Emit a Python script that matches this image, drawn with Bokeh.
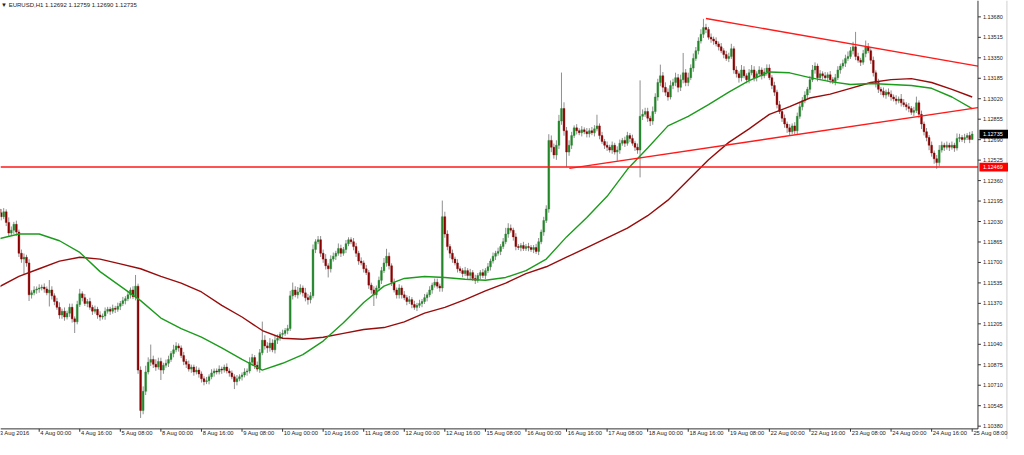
from bokeh.plotting import figure
from bokeh.models import Range1d, ColumnDataSource
from bokeh.embed import file_html
from bokeh.resources import INLINE
from bokeh.core.properties import value

# ---------------- data (EURUSD H1) ----------------
first_open = 1.12130
closes = [
    1.12100, 1.12069, 1.12108, 1.12023, 1.11937, 1.11960, 1.12007, 1.11945, 1.11774, 1.11727, 1.11742, 1.11696, 1.11439, 1.11455, 1.11478, 1.11486,
    1.11494, 1.11501, 1.11486, 1.11455, 1.11478, 1.11431, 1.11385, 1.11338, 1.11276, 1.11307, 1.11260, 1.11291, 1.11338, 1.11245, 1.11221, 1.11361,
    1.11447, 1.11416, 1.11369, 1.11385, 1.11338, 1.11307, 1.11322, 1.11276, 1.11260, 1.11268, 1.11307, 1.11322, 1.11307, 1.11330, 1.11322, 1.11346,
    1.11369, 1.11392, 1.11408, 1.11439, 1.11478, 1.11424, 1.11509, 1.10832, 1.10506, 1.10661, 1.10817, 1.10895, 1.10918, 1.10879, 1.10856, 1.10902,
    1.10832, 1.10871, 1.10887, 1.10918, 1.10965, 1.10996, 1.11027, 1.11011, 1.10949, 1.10902, 1.10879, 1.10840, 1.10856, 1.10817, 1.10832, 1.10801,
    1.10762, 1.10739, 1.10747, 1.10778, 1.10809, 1.10825, 1.10817, 1.10840, 1.10832, 1.10856, 1.10825, 1.10809, 1.10778, 1.10739, 1.10762, 1.10778,
    1.10793, 1.10817, 1.10825, 1.10895, 1.10933, 1.10871, 1.10840, 1.10972, 1.11073, 1.11027, 1.11011, 1.11050, 1.10996, 1.11073, 1.11089, 1.11120,
    1.11128, 1.11151, 1.11167, 1.11431, 1.11478, 1.11439, 1.11462, 1.11494, 1.11455, 1.11416, 1.11400, 1.11431, 1.11805, 1.11867, 1.11883, 1.11774,
    1.11727, 1.11673, 1.11649, 1.11727, 1.11750, 1.11774, 1.11813, 1.11774, 1.11805, 1.11851, 1.11883, 1.11867, 1.11828, 1.11774, 1.11711, 1.11696,
    1.11649, 1.11618, 1.11517, 1.11478, 1.11439, 1.11494, 1.11556, 1.11634, 1.11696, 1.11750, 1.11673, 1.11540, 1.11478, 1.11439, 1.11494, 1.11439,
    1.11416, 1.11385, 1.11400, 1.11361, 1.11338, 1.11354, 1.11369, 1.11385, 1.11416, 1.11439, 1.11478, 1.11517, 1.11540, 1.11509, 1.11494, 1.12069,
    1.11929, 1.11828, 1.11774, 1.11727, 1.11696, 1.11649, 1.11634, 1.11610, 1.11634, 1.11595, 1.11618, 1.11571, 1.11556, 1.11595, 1.11618, 1.11595,
    1.11634, 1.11665, 1.11711, 1.11750, 1.11774, 1.11789, 1.11828, 1.11867, 1.11929, 1.11976, 1.11960, 1.11906, 1.11828, 1.11820, 1.11836, 1.11813,
    1.11828, 1.11820, 1.11805, 1.11820, 1.11789, 1.11867, 1.11945, 1.12038, 1.12131, 1.12684, 1.12629, 1.12567, 1.12645, 1.12840, 1.12941, 1.12762,
    1.12590, 1.12645, 1.12723, 1.12785, 1.12762, 1.12746, 1.12769, 1.12754, 1.12738, 1.12762, 1.12746, 1.12777, 1.12801, 1.12723, 1.12676, 1.12645,
    1.12629, 1.12606, 1.12645, 1.12590, 1.12606, 1.12661, 1.12684, 1.12661, 1.12723, 1.12700, 1.12661, 1.12629, 1.12606, 1.12878, 1.12894, 1.12917,
    1.12863, 1.12840, 1.12917, 1.13034, 1.13151, 1.13205, 1.13112, 1.13073, 1.13034, 1.13127, 1.13151, 1.13190, 1.13112, 1.13174, 1.13229, 1.13151,
    1.13190, 1.13267, 1.13345, 1.13407, 1.13485, 1.13540, 1.13594, 1.13579, 1.13516, 1.13501, 1.13485, 1.13462, 1.13439, 1.13407, 1.13376, 1.13345,
    1.13361, 1.13423, 1.13252, 1.13221, 1.13190, 1.13252, 1.13205, 1.13174, 1.13229, 1.13252, 1.13190, 1.13221, 1.13252, 1.13205, 1.13236, 1.13267,
    1.13190, 1.13127, 1.13073, 1.12972, 1.12917, 1.12863, 1.12816, 1.12785, 1.12754, 1.12801, 1.12762, 1.12878, 1.12956, 1.13003, 1.13050, 1.13096,
    1.13174, 1.13252, 1.13283, 1.13190, 1.13221, 1.13205, 1.13190, 1.13213, 1.13174, 1.13158, 1.13190, 1.13252, 1.13283, 1.13306, 1.13345, 1.13361,
    1.13407, 1.13439, 1.13361, 1.13330, 1.13314, 1.13384, 1.13439, 1.13407, 1.13330, 1.13229, 1.13151, 1.13096, 1.13081, 1.13050, 1.13073, 1.13057,
    1.13034, 1.13018, 1.13003, 1.13018, 1.12987, 1.12972, 1.12956, 1.12941, 1.12910, 1.12925, 1.12987, 1.12894, 1.12816, 1.12754, 1.12707, 1.12645,
    1.12583, 1.12536, 1.12505, 1.12606, 1.12645, 1.12629, 1.12645, 1.12629, 1.12645, 1.12622, 1.12700, 1.12707, 1.12692, 1.12707, 1.12723, 1.12692, 1.12735,
]
# wick lengths above / below the body, in pips
upper_wick = [
    3, 3, 3, 2, 4, 3, 2, 3, 2, 3, 3, 2, 3, 2, 3, 2,
    3, 2, 3, 2, 8, 3, 2, 3, 4, 2, 3, 2, 3, 3, 2, 3,
    4, 2, 3, 2, 3, 2, 3, 2, 3, 2, 3, 2, 2, 3, 2, 3,
    2, 3, 2, 3, 2, 3, 9, 2, 3, 4, 5, 4, 12, 3, 4, 3,
    3, 2, 3, 3, 2, 4, 3, 2, 2, 3, 2, 3, 2, 2, 3, 2,
    2, 2, 3, 2, 3, 2, 2, 3, 2, 2, 3, 2, 2, 2, 3, 2,
    2, 3, 2, 4, 3, 2, 3, 3, 15, 4, 3, 4, 3, 4, 3, 2,
    3, 2, 3, 4, 6, 3, 4, 3, 2, 4, 3, 3, 4, 2, 3, 3,
    3, 4, 2, 3, 3, 2, 4, 3, 2, 3, 2, 2, 3, 3, 2, 3,
    2, 3, 2, 2, 3, 2, 3, 3, 4, 6, 3, 2, 3, 2, 3, 2,
    3, 2, 3, 2, 3, 2, 3, 2, 3, 2, 3, 2, 3, 3, 2, 13,
    4, 3, 2, 3, 2, 3, 2, 2, 3, 2, 3, 2, 3, 2, 2, 3,
    2, 3, 2, 3, 2, 3, 2, 3, 5, 4, 3, 2, 3, 2, 2, 3,
    2, 3, 2, 2, 3, 3, 2, 3, 3, 5, 4, 3, 4, 5, 29, 5,
    3, 4, 3, 2, 3, 2, 3, 2, 3, 2, 3, 3, 9, 2, 3, 2,
    3, 2, 3, 2, 3, 3, 2, 3, 3, 2, 3, 2, 3, 29, 4, 3,
    3, 2, 4, 3, 3, 9, 3, 4, 3, 4, 3, 4, 3, 4, 16, 3,
    4, 3, 4, 3, 3, 4, 7, 3, 2, 3, 2, 3, 2, 3, 2, 3,
    3, 4, 2, 3, 2, 4, 3, 2, 3, 4, 3, 2, 3, 2, 3, 3,
    3, 2, 3, 2, 3, 2, 3, 2, 3, 2, 3, 3, 4, 3, 3, 2,
    3, 4, 3, 2, 3, 2, 3, 2, 3, 2, 3, 3, 2, 3, 3, 4,
    3, 4, 12, 3, 2, 3, 5, 3, 2, 3, 2, 3, 2, 3, 2, 3,
    3, 2, 3, 2, 4, 3, 2, 3, 2, 3, 5, 2, 3, 2, 3, 2,
    3, 2, 3, 4, 3, 2, 3, 2, 3, 2, 4, 3, 2, 3, 2, 3, 2.4,
]
lower_wick = [
    2, 3, 2, 3, 3, 2, 3, 3, 3, 3, 12, 3, 5, 3, 2, 3,
    3, 2, 3, 2, 11, 3, 3, 2, 3, 3, 3, 2, 3, 3, 9, 2,
    2, 3, 2, 3, 2, 3, 2, 3, 3, 2, 3, 2, 3, 2, 3, 2,
    3, 2, 3, 2, 3, 2, 3, 3, 6, 3, 3, 2, 3, 3, 3, 2,
    8, 3, 2, 3, 2, 3, 2, 3, 2, 3, 3, 2, 3, 3, 2, 3,
    3, 3, 2, 3, 2, 3, 2, 2, 3, 2, 2, 3, 2, 6, 3, 2,
    3, 2, 3, 2, 3, 3, 2, 3, 2, 3, 4, 3, 2, 3, 3, 2,
    3, 2, 3, 2, 3, 2, 3, 2, 3, 3, 4, 3, 2, 3, 2, 3,
    3, 3, 7, 3, 2, 3, 2, 3, 2, 3, 2, 2, 3, 3, 3, 2,
    3, 2, 3, 3, 9, 3, 2, 3, 2, 3, 3, 3, 2, 3, 3, 3,
    2, 3, 2, 3, 2, 3, 2, 3, 2, 3, 2, 3, 2, 2, 3, 3,
    3, 3, 4, 3, 2, 3, 2, 3, 2, 3, 3, 2, 3, 2, 3, 2,
    3, 2, 3, 2, 3, 2, 3, 2, 2, 3, 2, 3, 3, 2, 3, 2,
    2, 3, 2, 3, 2, 3, 2, 3, 2, 3, 4, 3, 4, 3, 3, 4,
    12, 3, 3, 2, 3, 2, 3, 2, 3, 3, 2, 3, 2, 3, 2, 3,
    3, 2, 3, 2, 7, 3, 2, 3, 2, 3, 2, 3, 3, 22, 3, 2,
    3, 4, 3, 2, 3, 3, 4, 3, 3, 2, 3, 3, 4, 3, 3, 3,
    3, 2, 3, 2, 3, 2, 3, 3, 2, 3, 3, 2, 3, 2, 3, 2,
    3, 2, 3, 3, 4, 3, 2, 3, 3, 2, 3, 3, 2, 3, 2, 3,
    2, 3, 3, 3, 2, 3, 3, 4, 3, 2, 3, 3, 2, 3, 2, 3,
    3, 2, 3, 3, 2, 3, 2, 3, 3, 2, 3, 2, 3, 2, 3, 2,
    2, 3, 3, 2, 3, 2, 3, 2, 3, 3, 4, 3, 3, 2, 3, 2,
    3, 2, 3, 2, 3, 2, 3, 3, 2, 3, 2, 3, 4, 3, 3, 4,
    3, 4, 5, 3, 2, 3, 2, 3, 2, 3, 2, 3, 2, 3, 2, 3, 0.2,
]
# moving averages, read every 8 bars
ma_step = 8
ma_fast = [
    1.11890, 1.11929, 1.11929, 1.11875, 1.11781, 1.11626, 1.11509, 1.11392, 1.11252, 1.11167,
    1.11097, 1.11011, 1.10918, 1.10832, 1.10887, 1.10957, 1.11066, 1.11214, 1.11377, 1.11509,
    1.11571, 1.11587, 1.11579, 1.11564, 1.11556, 1.11579, 1.11634, 1.11727, 1.11906, 1.12062,
    1.12233, 1.12451, 1.12622, 1.12801, 1.12878, 1.12972, 1.13073, 1.13166, 1.13236, 1.13229,
    1.13190, 1.13158, 1.13135, 1.13143, 1.13135, 1.13127, 1.13104, 1.13034, 1.12941,
]
ma_slow = [
    1.11501, 1.11587, 1.11649, 1.11711, 1.11742, 1.11727, 1.11688, 1.11649, 1.11587, 1.11533,
    1.11462, 1.11354, 1.11260, 1.11151, 1.11089, 1.11081, 1.11097, 1.11128, 1.11159, 1.11175,
    1.11221, 1.11291, 1.11338, 1.11400, 1.11470, 1.11533, 1.11610, 1.11665, 1.11742, 1.11820,
    1.11898, 1.11976, 1.12077, 1.12202, 1.12365, 1.12528, 1.12668, 1.12777, 1.12894, 1.12956,
    1.13026, 1.13057, 1.13104, 1.13151, 1.13174, 1.13182, 1.13151, 1.13096, 1.13034,
]
# trend lines (bar index, price)
upper_tl_bars = [279.0, 386.28]
upper_tl_price = [1.13667, 1.13283]
lower_tl_bars = [225.1, 386.28]
lower_tl_price = [1.12458, 1.12948]
support_level = 1.12469
last_price = 1.12735
title_text = "\u25bc EURUSD,H1  1.12692 1.12759 1.12690 1.12735"

bars_per_label = 16
time_labels = ["3 Aug 2016", "4 Aug 00:00", "4 Aug 16:00", "5 Aug 08:00", "8 Aug 00:00", "8 Aug 16:00",
               "9 Aug 08:00", "10 Aug 00:00", "10 Aug 16:00", "11 Aug 08:00", "12 Aug 00:00", "12 Aug 16:00",
               "15 Aug 08:00", "16 Aug 00:00", "16 Aug 16:00", "17 Aug 08:00", "18 Aug 00:00", "18 Aug 16:00",
               "19 Aug 08:00", "22 Aug 00:00", "22 Aug 16:00", "23 Aug 08:00", "24 Aug 00:00", "24 Aug 16:00",
               "25 Aug 08:00"]
price_ticks = [1.13680, 1.13515, 1.13350, 1.13185, 1.13020, 1.12855, 1.12690, 1.12525, 1.12360, 1.12195,
               1.12030, 1.11865, 1.11700, 1.11535, 1.11370, 1.11205, 1.11040, 1.10875, 1.10710, 1.10545, 1.10380]

# ---------------- layout constants ----------------
FONT = "Liberation Sans"
x_lo, x_plot_hi, x_canvas_hi = 0.74, 386.28, 398.32        # bars
y_canvas_lo, y_plot_lo, y_hi = 1.102724, 1.10358, 1.13812  # prices
PX_X = 0.38826     # one reference pixel in bars
PX_Y = 7.7793e-5   # one reference pixel in price

# ---------------- build candles ----------------
n = len(closes)
idx = list(range(n))
opens = [first_open] + closes[:-1]
highs = [max(o, c) + u * 1e-4 for o, c, u in zip(opens, closes, upper_wick)]
lows = [min(o, c) - d * 1e-4 for o, c, d in zip(opens, closes, lower_wick)]
BULL, BEAR, WICK = "#23872a", "#8b0000", "#8f8f8f"
src = ColumnDataSource(dict(
    x=idx, top=[max(o, c) for o, c in zip(opens, closes)],
    bottom=[min(o, c) for o, c in zip(opens, closes)],
    high=highs, low=lows,
    color=[BULL if c >= o else BEAR for o, c in zip(opens, closes)],
))

p = figure(width=1008, height=439, output_backend="svg", toolbar_location=None,
           x_range=Range1d(x_lo, x_canvas_hi), y_range=Range1d(y_canvas_lo, y_hi),
           x_axis_location=None, y_axis_location=None,
           min_border_left=0, min_border_top=0, min_border_right=0, min_border_bottom=0)
p.outline_line_color = None
p.xgrid.visible = False
p.ygrid.visible = False
p.background_fill_color = "white"
p.border_fill_color = "white"

p.segment(x0="x", y0="low", x1="x", y1="high", source=src, line_color=WICK, line_width=1)
p.vbar(x="x", width=0.72, top="top", bottom="bottom", source=src,
       fill_color="color", line_color="color", line_width=0.4)

ma_x = [i * ma_step for i in range(len(ma_fast))]
p.line(ma_x, ma_slow, line_color="#980c0c", line_width=1.4)
p.line(ma_x, ma_fast, line_color="#1c9c1c", line_width=1.4)

p.line(upper_tl_bars, upper_tl_price, line_color="#ff1a1a", line_width=1.4)
p.line(lower_tl_bars, lower_tl_price, line_color="#ff1a1a", line_width=1.4)
p.line([x_lo, x_plot_hi], [support_level, support_level], line_color="#ff1a1a", line_width=1.4)

# ---------------- price scale (right) ----------------
AX = "#333333"
p.segment(x0=[x_plot_hi, x_lo], y0=[y_plot_lo, y_plot_lo], x1=[x_plot_hi, x_plot_hi], y1=[y_hi, y_plot_lo],
          line_color=AX, line_width=1)
p.segment(x0=[x_canvas_hi - 1.6 * PX_X], y0=[y_canvas_lo], x1=[x_canvas_hi - 1.6 * PX_X], y1=[y_hi],
          line_color="#cfcfcf", line_width=1)
p.segment(x0=[x_plot_hi] * len(price_ticks), y0=price_ticks,
          x1=[x_plot_hi + 3 * PX_X] * len(price_ticks), y1=price_ticks, line_color=AX, line_width=1)
p.text(x=[x_plot_hi + 5 * PX_X] * len(price_ticks), y=price_ticks,
       text=[f"{t:.5f}" for t in price_ticks], text_font=value(FONT), text_font_size=value("5.5px"),
       text_color="#222222", text_align="left", text_baseline="middle")

# boxes with the current price and the level
box_prices = [last_price, support_level]
box_colors = ["#000000", "#ff0000"]
p.quad(left=[x_plot_hi + 1.5 * PX_X] * 2, right=[x_canvas_hi] * 2,
       bottom=[bp - 4.5 * PX_Y for bp in box_prices], top=[bp + 4.5 * PX_Y for bp in box_prices],
       fill_color=box_colors, line_color=None)
p.text(x=[x_plot_hi + 5 * PX_X] * 2, y=box_prices, text=[f"{bp:.5f}" for bp in box_prices],
       text_font=value(FONT), text_font_size=value("5.5px"), text_color="white",
       text_align="left", text_baseline="middle")

# ---------------- time scale (bottom) ----------------
tick_bars = [i * bars_per_label for i in range(len(time_labels))]
p.segment(x0=tick_bars, y0=[y_plot_lo] * len(tick_bars), x1=tick_bars,
          y1=[y_plot_lo - 3 * PX_Y] * len(tick_bars), line_color=AX, line_width=1)
p.text(x=[t + 1.2 * PX_X for t in tick_bars], y=[y_plot_lo - 4.4 * PX_Y] * len(tick_bars),
       text=time_labels, text_font=value(FONT), text_font_size=value("5.8px"),
       text_color="#222222", text_align="left", text_baseline="middle")

# ---------------- title ----------------
p.text(x=[x_lo + 0.6 * PX_X], y=[y_hi - 4.2 * PX_Y], text=[title_text], text_font=value(FONT),
       text_font_size=value("6px"), text_color="#222222", text_align="left", text_baseline="middle")

open("out.html", "w").write(file_html(p, INLINE))
